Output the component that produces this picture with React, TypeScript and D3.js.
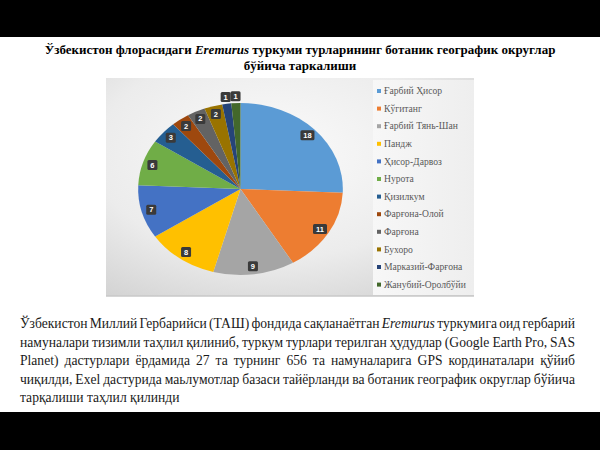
import React, { useMemo } from "react";
import * as d3 from "d3";

const categories = [
  "Ғарбий Ҳисор",
  "Кўгитанг",
  "Ғарбий Тянь-Шан",
  "Пандж",
  "Ҳисор-Дарвоз",
  "Нурота",
  "Қизилкум",
  "Фарғона-Олой",
  "Фарғона",
  "Бухоро",
  "Марказий-Фарғона",
  "Жанубий-Оролбўйи",
];
const values = [18, 11, 9, 8, 7, 6, 3, 2, 2, 2, 1, 1];
const colors = [
  "#5B9BD5", "#ED7D31", "#A5A5A5", "#FFC000", "#4472C4", "#70AD47",
  "#255E91", "#9E480E", "#636363", "#997300", "#264478", "#43682B",
];

const titleLines = [
  [
    { t: "Ўзбекистон флорасидаги ", i: false },
    { t: "Eremurus", i: true },
    { t: " туркуми турларининг ботаник географик округлар", i: false },
  ],
  [{ t: "бўйича таркалиши", i: false }],
];

const bodyLines = [
  "Ўзбекистон Миллий Гербарийси (ТАШ) фондида сақланаётган *Eremurus* туркумига оид гербарий",
  "намуналари тизимли таҳлил қилиниб, туркум турлари терилган ҳудудлар (Google Earth Pro, SAS",
  "Planet) дастурлари ёрдамида 27 та турнинг 656 та намуналарига GPS кординаталари қўйиб",
  "чиқилди, Exel дастурида маьлумотлар базаси тайёрланди ва ботаник географик округлар бўйича",
  "тарқалиши таҳлил қилинди",
];

const W = 600;
const H = 450;
const BODY_FONT = 13.6;
const BODY_FAMILY = "'Liberation Serif', 'Times New Roman', serif";

let _ctx: CanvasRenderingContext2D | null = null;
function measure(text: string, italic: boolean) {
  if (!_ctx) {
    const c = document.createElement("canvas");
    _ctx = c.getContext("2d");
  }
  const ctx = _ctx!;
  ctx.font = `${italic ? "italic " : ""}${BODY_FONT}px ${BODY_FAMILY}`;
  return ctx.measureText(text).width;
}

function BodyText() {
  const x0 = 20;
  const x1 = 575;
  const y0 = 328;
  const lh = 18.5;
  const items: JSX.Element[] = [];
  bodyLines.forEach((line, li) => {
    const words = line.split(" ").map((w) => {
      const it = w.startsWith("*");
      const t = w.replace(/\*/g, "");
      return { t, it, w: measure(t, it) };
    });
    const last = li === bodyLines.length - 1;
    const total = d3.sum(words, (d) => d.w);
    const space = last
      ? measure(" ", false)
      : (x1 - x0 - total) / (words.length - 1);
    let x = x0;
    words.forEach((wd, wi) => {
      items.push(
        <text
          key={`${li}-${wi}`}
          x={x}
          y={y0 + li * lh}
          fontSize={BODY_FONT}
          fontFamily={BODY_FAMILY}
          fontStyle={wd.it ? "italic" : "normal"}
          fill="#1a1a1a"
        >
          {wd.t}
        </text>
      );
      x += wd.w + space;
    });
  });
  return <g>{items}</g>;
}

export default function App() {
  const cx = 240.5;
  const cy = 189;
  const r = 86;
  const sx = 1.19;

  const arcs = useMemo(
    () => d3.pie<number>().sort(null).startAngle(0).endAngle(2 * Math.PI)(values),
    []
  );
  const arcGen = d3.arc<d3.PieArcDatum<number>>().innerRadius(0).outerRadius(r);
  const total = d3.sum(values);

  return (
    <svg
      width={W}
      height={H}
      style={{ position: "absolute", left: 0, top: 0, background: "#fff" }}
    >
      <defs>
        <radialGradient id="bg" cx="0.45" cy="0.35" r="0.8">
          <stop offset="0" stopColor="#fbfbfb" />
          <stop offset="0.6" stopColor="#ececec" />
          <stop offset="1" stopColor="#d2d2d2" />
        </radialGradient>
        <linearGradient id="leg" x1="0" x2="1" y1="0" y2="0">
          <stop offset="0" stopColor="#f7f7f7" />
          <stop offset="1" stopColor="#eeeeee" />
        </linearGradient>
      </defs>
      <rect x={0} y={0} width={W} height={37} fill="#000" />
      <rect x={0} y={412} width={W} height={38} fill="#000" />

      {titleLines.map((segs, i) => (
        <text
          key={i}
          x={300}
          y={54 + i * 16}
          textAnchor="middle"
          fontSize={13}
          fontWeight="bold"
          fontFamily={BODY_FAMILY}
          fill="#000"
        >
          {segs.map((s, j) => (
            <tspan key={j} fontStyle={s.i ? "italic" : "normal"}>
              {s.t}
            </tspan>
          ))}
        </text>
      ))}

      {/* chart frame */}
      <rect x={106} y={78} width={368} height={218} fill="url(#bg)" />
      <rect x={373} y={80} width={101} height={215} fill="url(#leg)" />
      <line x1={106} x2={474} y1={296} y2={296} stroke="#c8c8c8" strokeWidth={1.5} />

      <g transform={`translate(${cx},${cy}) scale(${sx},1)`}>
        {arcs.map((a, i) => (
          <path key={i} d={arcGen(a) || ""} fill={colors[i]} />
        ))}
      </g>
      {arcs.map((a, i) => {
        const mid = (a.startAngle + a.endAngle) / 2;
        const frac = (a.value as number) / total;
        const lr = frac < 0.02 ? r * 1.08 : r * 0.905;
        const x = cx + Math.sin(mid) * lr * sx;
        const y = cy - Math.cos(mid) * lr;
        const txt = String(values[i]);
        const bw = txt.length > 1 ? 14 : 10;
        return (
          <g key={i}>
            <rect
              x={x - bw / 2}
              y={y - 5}
              width={bw}
              height={10}
              rx={1.5}
              fill="#3a3a3a"
            />
            <text
              x={x}
              y={y + 2.6}
              textAnchor="middle"
              fontSize={7.5}
              fontWeight="bold"
              fontFamily="'Liberation Sans', Arial, sans-serif"
              fill="#fff"
            >
              {txt}
            </text>
          </g>
        );
      })}

      {categories.map((c, i) => {
        const y = 91 + i * 17.6;
        return (
          <g key={c}>
            <rect x={377} y={y - 2} width={4} height={4} fill={colors[i]} />
            <text
              x={384}
              y={y + 3.2}
              fontSize={9.6}
              fontFamily={BODY_FAMILY}
              fill="#595959"
            >
              {c}
            </text>
          </g>
        );
      })}

      <BodyText />
    </svg>
  );
}
